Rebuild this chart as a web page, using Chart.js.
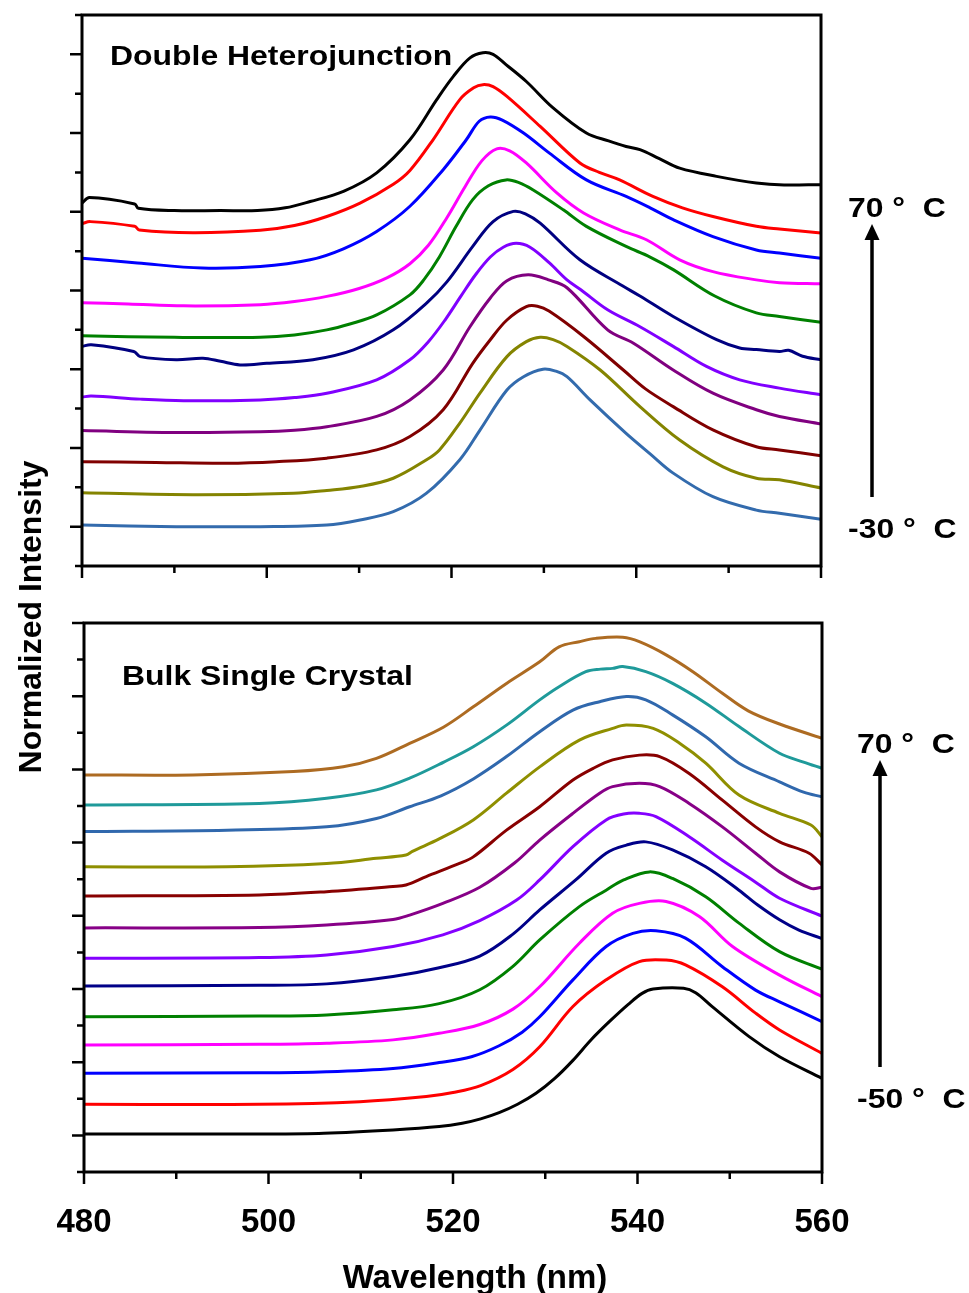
<!DOCTYPE html>
<html>
<head>
<meta charset="utf-8">
<title>Temperature-dependent PL spectra</title>
<script src="https://cdn.jsdelivr.net/npm/chart.js@4.4.1/dist/chart.umd.min.js"></script>
<style>
  html, body { margin: 0; padding: 0; background: #ffffff; }
  #wrap { position: relative; width: 969px; height: 1293px; background: #ffffff; }
  #wrap canvas { position: absolute; left: 0; top: 0; }
</style>
</head>
<body>
<div id="wrap">
  <canvas id="dhCanvas" width="969" height="1293"></canvas>
  <canvas id="bsCanvas" width="969" height="1293"></canvas>
</div>
<script>
// ---- Temperatures of the stacked spectra (top curve first) ----
const dhTemps = [70, 60, 50, 40, 30, 20, 10, 0, -10, -20, -30];
const bsTemps = [70, 60, 50, 40, 30, 20, 10, 0, -10, -20, -30, -40, -50];
const xTickLabels = [480, 500, 520, 540, 560];
const panelNames = ['Double Heterojunction', 'Bulk Single Crystal'];
const axisTitles = ['Wavelength (nm)', 'Normalized Intensity'];

// ---- Double heterojunction: [wavelength (nm), offset normalized intensity] ----
const dh70 = [[480,9.22],[480.8,9.36],[485.7,9.20],[486.1,9.09],[490,9.03],[495,9.03],[499,9.03],[502,9.10],[504.7,9.26],[508.3,9.52],[511.9,9.99],[515.5,10.83],[518.4,11.85],[520.2,12.44],[522,12.91],[523.4,13.04],[524.5,13.00],[525.9,12.74],[528.1,12.31],[531,11.64],[534.6,11.00],[537,10.80],[538.9,10.66],[540.4,10.58],[542.5,10.35],[544.7,10.11],[548.7,9.90],[553,9.73],[556,9.68],[560,9.69]];
const dh60 = [[480,8.70],[480.9,8.75],[485.7,8.63],[486.2,8.54],[492,8.47],[499.3,8.53],[503,8.65],[506.5,8.88],[510.1,9.22],[513.7,9.70],[515.5,10.05],[518,10.83],[520.9,11.85],[522.4,12.15],[523.4,12.23],[524.5,12.18],[526,11.93],[529.6,11.17],[533.9,10.24],[536,10.00],[538.2,9.81],[541.8,9.39],[545,9.10],[548.3,8.88],[553,8.63],[555.5,8.56],[560,8.46]];
const dh50 = [[480,7.82],[486,7.70],[493,7.57],[499.3,7.61],[504.7,7.78],[508.3,8.06],[511.9,8.50],[515.5,9.14],[519.1,10.07],[521.6,10.83],[523,11.30],[524.2,11.41],[525.5,11.33],[527.8,11.00],[530.6,10.49],[534.6,9.81],[538.9,9.39],[541.5,9.10],[544,8.80],[548.3,8.37],[553,8.03],[555.5,7.95],[560,7.82]];
const dh40 = [[480,6.69],[485,6.66],[491,6.61],[499.3,6.64],[503,6.72],[506.5,6.85],[510,7.05],[513,7.32],[515.5,7.68],[517.5,8.15],[519.5,8.85],[521.5,9.65],[523.3,10.30],[524.9,10.60],[526.3,10.55],[528.1,10.24],[531.4,9.48],[534.3,8.97],[538.2,8.54],[541.1,8.29],[544.7,7.78],[548.3,7.48],[553,7.27],[555.5,7.20],[560,7.17]];
const dh30 = [[480,5.85],[490,5.81],[499.3,5.81],[503,5.87],[506.5,6.00],[509,6.15],[511.9,6.38],[515.5,6.89],[517,7.27],[518.7,7.86],[520.5,8.63],[522.3,9.31],[524,9.66],[525.9,9.81],[527.3,9.74],[528.8,9.56],[532.1,9.05],[534.6,8.63],[538.9,8.12],[541.5,7.85],[544,7.53],[548.5,6.86],[553,6.43],[555.5,6.34],[560,6.19]];
const dh20 = [[480,5.58],[481,5.62],[485.6,5.45],[486.3,5.32],[490.2,5.24],[493.1,5.28],[495,5.20],[497.1,5.11],[500,5.15],[505,5.24],[509.4,5.49],[513.7,6.00],[517.3,6.68],[519.5,7.22],[522.3,8.12],[524.5,8.75],[526.7,9.01],[528,8.95],[529.6,8.71],[533.9,7.78],[538.5,7.12],[540.4,6.86],[544,6.34],[548.7,5.75],[551.2,5.54],[553,5.50],[555.5,5.45],[556.5,5.48],[558,5.33],[560,5.24]];
const dh10 = [[480,4.29],[481,4.32],[486.3,4.24],[491,4.20],[499.3,4.22],[503,4.28],[506.5,4.39],[511.9,4.73],[515.5,5.24],[517.5,5.70],[519.3,6.25],[521,6.85],[522.6,7.40],[524.2,7.85],[525.6,8.10],[527,8.20],[528.5,8.10],[530.6,7.70],[532.5,7.27],[534,7.02],[536.9,6.51],[540.4,6.08],[544,5.58],[547.6,5.07],[551.2,4.73],[555.5,4.52],[560,4.35]];
const dh0 = [[480,3.44],[491,3.39],[499.3,3.41],[503,3.45],[506.5,3.54],[511.9,3.80],[515.5,4.22],[519.1,4.98],[522,6.08],[524.2,6.81],[526,7.25],[528.3,7.40],[530.5,7.27],[532.5,7.07],[536.9,6.00],[539.7,5.66],[544,4.98],[548.3,4.39],[553,3.97],[555.5,3.80],[560,3.61]];
const dhM10 = [[480,2.65],[488,2.63],[495.7,2.61],[501,2.65],[506.5,2.74],[511.9,2.95],[515.5,3.29],[519.1,3.97],[522.3,5.15],[524.2,5.75],[526,6.25],[528.1,6.59],[529.3,6.60],[530.6,6.47],[534.3,5.83],[538.6,4.98],[541,4.50],[544,4.05],[548.3,3.46],[553,3.03],[555.5,2.95],[560,2.80]];
const dhM20 = [[480,1.86],[492,1.81],[502.9,1.85],[506.5,1.92],[510.1,2.02],[513.7,2.23],[517.3,2.70],[518.7,2.95],[520.9,3.63],[523.1,4.40],[526,5.32],[528.1,5.70],[529.6,5.81],[531,5.75],[532.5,5.58],[536.1,4.98],[540.4,4.05],[544.7,3.20],[549.4,2.52],[553,2.23],[555.5,2.19],[560,1.98]];
const dhM30 = [[480,1.04],[490.2,1.00],[499.3,1.00],[506.5,1.04],[510.1,1.17],[513.7,1.38],[517.3,1.85],[520.9,2.70],[523.1,3.46],[526,4.47],[527.8,4.81],[529.9,5.00],[531.3,4.95],[532.5,4.81],[535,4.22],[538.9,3.37],[541.5,2.85],[544,2.36],[548.3,1.76],[553,1.42],[555.5,1.34],[560,1.19]];

// ---- Bulk single crystal: [wavelength (nm), offset normalized intensity] ----
const bs70 = [[480,10.85],[491.8,10.85],[502.7,10.94],[508.1,11.07],[511.7,11.30],[515.3,11.71],[519,12.16],[522.2,12.71],[525.8,13.35],[529.4,13.94],[531.5,14.35],[533.7,14.49],[535.5,14.58],[538.4,14.61],[540.2,14.49],[543.1,14.13],[546,13.67],[549.2,13.08],[552,12.60],[555.4,12.24],[560,11.85]];
const bs60 = [[480,10.03],[499,10.07],[506.3,10.21],[511.7,10.44],[515.3,10.76],[519,11.20],[522.2,11.62],[525.8,12.21],[529.4,12.90],[531.5,13.26],[534.4,13.67],[536,13.74],[537.3,13.76],[538.4,13.81],[540.9,13.67],[543.8,13.35],[547.4,12.81],[551,12.17],[555.4,11.44],[558,11.20],[560,11.03]];
const bs50 = [[480,9.30],[495.5,9.34],[506.3,9.43],[511.7,9.66],[515.3,9.98],[518.7,10.28],[522.2,10.74],[525.8,11.35],[529.4,12.03],[533,12.62],[535.9,12.85],[538.8,12.99],[540.9,12.90],[543.8,12.49],[547.4,11.89],[551,11.17],[555.4,10.66],[558,10.38],[560,10.25]];
const bs40 = [[480,8.34],[495.5,8.34],[506.3,8.43],[511.7,8.57],[514.9,8.66],[515.6,8.76],[518.5,9.10],[522.2,9.62],[525.8,10.35],[529.4,11.07],[533.7,11.80],[537.3,12.12],[538.8,12.21],[541.7,12.12],[544.6,11.71],[547.4,11.17],[551,10.30],[555.4,9.80],[558.8,9.48],[560,9.16]];
const bs30 = [[480,7.54],[499,7.57],[506.3,7.66],[513.5,7.80],[514.9,7.84],[517.1,8.07],[520.7,8.43],[522.2,8.61],[525.8,9.34],[529.4,9.98],[533,10.71],[535.2,11.03],[537.3,11.26],[540.2,11.39],[542.4,11.35],[545.6,10.89],[549.2,10.16],[552.8,9.43],[555.4,9.02],[558.6,8.71],[560,8.39]];
const bs20 = [[480,6.67],[499,6.68],[506.3,6.75],[513.5,6.90],[515.3,7.02],[518.9,7.34],[522.9,7.78],[526.7,8.45],[529.4,9.07],[533,9.80],[535.9,10.35],[537.3,10.53],[540.2,10.62],[542.4,10.53],[545.6,10.07],[549.2,9.43],[552.8,8.71],[555.4,8.20],[558.8,7.75],[560,7.78]];
const bs10 = [[480,5.84],[499,5.86],[506.3,5.93],[513.5,6.16],[518.9,6.48],[522.9,6.87],[526.9,7.43],[529.4,7.98],[533,8.89],[536.6,9.62],[538.5,9.78],[540.2,9.80],[542,9.71],[545.6,9.16],[549.2,8.52],[552.8,7.92],[555.4,7.48],[560,6.99]];
const bs0 = [[480,5.08],[499,5.10],[506.3,5.14],[513.5,5.34],[518.5,5.58],[522.9,5.90],[526.5,6.50],[529.4,7.16],[533.3,7.98],[536.6,8.71],[538.8,8.93],[540.9,9.02],[543.8,8.80],[547.4,8.34],[551,7.70],[553,7.30],[555.4,6.89],[557.5,6.61],[560,6.38]];
const bsM10 = [[480,4.24],[499,4.26],[506.3,4.29],[513.5,4.43],[518.5,4.60],[522.9,4.98],[526.5,5.62],[529.4,6.34],[533.7,7.25],[536.6,7.70],[538.5,7.98],[541.3,8.20],[543.8,8.02],[547.4,7.52],[551,6.80],[555.4,6.02],[560,5.54]];
const bsM20 = [[480,3.47],[499,3.49],[506.3,3.52],[513.5,3.61],[518.5,3.79],[522.9,4.03],[526.5,4.45],[529.4,5.06],[533.7,6.25],[537.3,7.07],[540.2,7.34],[543.1,7.39],[546.7,6.98],[550.3,6.16],[555.4,5.38],[560,4.79]];
const bsM30 = [[480,2.70],[499,2.71],[506.3,2.74],[513.5,2.83],[518.5,2.99],[522,3.15],[525,3.45],[527.5,3.82],[529.4,4.24],[533,5.25],[536.6,6.16],[539.5,6.52],[542,6.59],[545.2,6.39],[549.2,5.61],[552.8,4.97],[555.4,4.65],[560,4.11]];
const bsM40 = [[480,1.85],[499,1.85],[509.9,1.92],[517.1,2.06],[520,2.17],[523,2.36],[526.5,2.80],[529.4,3.42],[533,4.52],[536.6,5.25],[540.2,5.75],[543.1,5.79],[545.2,5.66],[549.2,5.06],[552.8,4.34],[555.4,3.88],[560,3.24]];
const bsM50 = [[480,1.04],[500,1.04],[506,1.06],[513.5,1.15],[518.5,1.24],[521,1.33],[523,1.45],[525,1.62],[527,1.85],[529,2.15],[531,2.55],[533,3.05],[535,3.62],[537,4.12],[539,4.58],[540.5,4.88],[541.7,5.00],[545,5.02],[546.3,4.90],[548.1,4.52],[552.1,3.70],[555.4,3.15],[560,2.56]];

const dhSpectra = [dh70, dh60, dh50, dh40, dh30, dh20, dh10, dh0, dhM10, dhM20, dhM30];
const bsSpectra = [bs70, bs60, bs50, bs40, bs30, bs20, bs10, bs0, bsM10, bsM20, bsM30, bsM40, bsM50];

// ---- Line colours (top curve first) ----
const dhColors = ['#000000', '#ff0000', '#0000ff', '#ff00ff', '#008000', '#000080',
                  '#8000ff', '#800080', '#800000', '#848400', '#336bad'];
const bsColors = ['#ad6b22', '#1f9a9a', '#3068ad', '#8f8f00', '#880000', '#870087',
                  '#8400ff', '#000088', '#008000', '#ff00ff', '#0000ff', '#ff0000', '#000000'];

const FONT = "'Liberation Sans', Arial, Helvetica, sans-serif";

function makeDatasets(spectra, temps, colors) {
  return spectra.map((s, i) => ({
    label: temps[i] + ' °C',
    data: s.map(p => ({ x: p[0], y: p[1] })),
    borderColor: colors[i],
    borderWidth: 3,
    pointRadius: 0,
    fill: false,
    tension: 0.35,
    borderJoinStyle: 'round',
    borderCapStyle: 'round'
  })).reverse();
}

// Labels in the figure are slightly wide; draw them with a horizontal stretch.
function stretchedText(ctx, text, x, y, size, sx) {
  ctx.save();
  ctx.translate(x, y);
  ctx.scale(sx, 1);
  ctx.font = 'bold ' + size + 'px ' + FONT;
  ctx.fillStyle = '#000';
  ctx.textAlign = 'left';
  ctx.textBaseline = 'alphabetic';
  ctx.fillText(text, 0, 0);
  ctx.restore();
}

function arrowUp(ctx, x, yFrom, yTip, headLen, headHalf) {
  ctx.save();
  ctx.strokeStyle = '#000';
  ctx.fillStyle = '#000';
  ctx.lineWidth = 3.5;
  ctx.beginPath();
  ctx.moveTo(x, yFrom);
  ctx.lineTo(x, yTip + headLen - 1);
  ctx.stroke();
  ctx.beginPath();
  ctx.moveTo(x, yTip);
  ctx.lineTo(x - headHalf, yTip + headLen);
  ctx.lineTo(x + headHalf, yTip + headLen);
  ctx.closePath();
  ctx.fill();
  ctx.restore();
}

// Box frame plus outward tick marks (long = major, short = minor)
const framePlugin = {
  id: 'frameTicks',
  afterDatasetsDraw(chart) {
    const { ctx, chartArea: a } = chart;
    const xs = chart.scales.x, ys = chart.scales.y;
    ctx.save();
    ctx.strokeStyle = '#000';
    ctx.lineWidth = 3;
    ctx.strokeRect(a.left, a.top, a.right - a.left, a.bottom - a.top);
    ctx.lineWidth = 2.5;
    ctx.beginPath();
    ys.ticks.forEach(t => {
      const py = ys.getPixelForValue(t.value);
      const len = Math.abs(t.value % 2) === 1 ? 12 : 7;
      ctx.moveTo(a.left, py);
      ctx.lineTo(a.left - len, py);
    });
    xs.ticks.forEach(t => {
      const px = xs.getPixelForValue(t.value);
      const len = xTickLabels.includes(t.value) ? 12 : 7;
      ctx.moveTo(px, a.bottom);
      ctx.lineTo(px, a.bottom + len);
    });
    ctx.stroke();
    ctx.restore();
  }
};

const dhNotes = {
  id: 'dhNotes',
  afterDraw(chart) {
    const ctx = chart.ctx;
    stretchedText(ctx, panelNames[0], 110, 65, 28, 1.14);
    stretchedText(ctx, dhTemps[0] + ' \u00b0  C', 848, 217, 28, 1.14);
    stretchedText(ctx, dhTemps[dhTemps.length - 1] + ' \u00b0  C', 848, 538, 28, 1.14);
    arrowUp(ctx, 872, 497, 224, 16, 7.5);
  }
};

const bsNotes = {
  id: 'bsNotes',
  afterDraw(chart) {
    const ctx = chart.ctx;
    stretchedText(ctx, panelNames[1], 122, 685, 28, 1.14);
    stretchedText(ctx, bsTemps[0] + ' \u00b0  C', 857, 753, 28, 1.14);
    stretchedText(ctx, bsTemps[bsTemps.length - 1] + ' \u00b0  C', 857, 1108, 28, 1.14);
    arrowUp(ctx, 880, 1067, 760, 16, 7.5);

    // x-axis title
    ctx.save();
    ctx.font = 'bold 33px ' + FONT;
    ctx.fillStyle = '#000';
    ctx.textAlign = 'center';
    ctx.textBaseline = 'alphabetic';
    ctx.fillText(axisTitles[0], 475, 1288);
    ctx.restore();

    // shared y-axis title
    ctx.save();
    ctx.translate(41, 617);
    ctx.rotate(-Math.PI / 2);
    ctx.font = 'bold 32px ' + FONT;
    ctx.fillStyle = '#000';
    ctx.textAlign = 'center';
    ctx.textBaseline = 'alphabetic';
    ctx.fillText(axisTitles[1], 0, 0);
    ctx.restore();
  }
};

function panelOptions(cfg) {
  return {
    responsive: false,
    animation: false,
    events: [],
    layout: { padding: cfg.padding },
    plugins: { legend: { display: false }, tooltip: { enabled: false }, title: { display: false } },
    scales: {
      x: {
        type: 'linear',
        min: 480,
        max: 560,
        grid: { display: false, drawTicks: false },
        border: { display: false },
        ticks: {
          display: cfg.showX,
          stepSize: 10,
          padding: 31,
          color: '#000',
          font: { family: FONT, size: 33, weight: 'bold' },
          maxRotation: 0,
          autoSkip: false,
          callback: v => (xTickLabels.includes(v) ? String(v) : '')
        },
        afterFit: s => { s.height = cfg.xHeight; }
      },
      y: {
        type: 'linear',
        min: 0,
        max: cfg.yMax,
        grid: { display: false, drawTicks: false },
        border: { display: false },
        ticks: { display: false, stepSize: 1 },
        afterFit: s => { s.width = cfg.yWidth; }
      }
    }
  };
}

new Chart(document.getElementById('dhCanvas'), {
  type: 'line',
  data: { datasets: makeDatasets(dhSpectra, dhTemps, dhColors) },
  options: panelOptions({
    padding: { left: 0, top: 15, right: 148, bottom: 707 },
    xHeight: 20, yWidth: 82, yMax: 14, showX: false
  }),
  plugins: [framePlugin, dhNotes]
});

new Chart(document.getElementById('bsCanvas'), {
  type: 'line',
  data: { datasets: makeDatasets(bsSpectra, bsTemps, bsColors) },
  options: panelOptions({
    padding: { left: 0, top: 623, right: 147, bottom: 0 },
    xHeight: 121, yWidth: 84, yMax: 15, showX: true
  }),
  plugins: [framePlugin, bsNotes]
});
</script>
</body>
</html>
